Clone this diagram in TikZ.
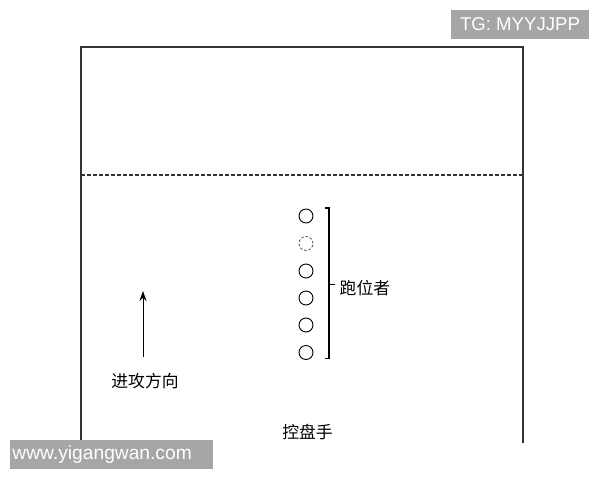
\documentclass[tikz,border=0pt]{standalone}
\usepackage{fontspec}
\setmainfont{Liberation Sans}
\newfontfamily\cjk{Noto Sans CJK SC}
\usetikzlibrary{arrows.meta}
\definecolor{wmgray}{HTML}{A6A6A6}
\definecolor{lineink}{HTML}{333333}
\tikzset{
  field/.style={draw=lineink, line width=1.2pt},
  halfline/.style={draw=lineink, line width=1.1pt, dash pattern=on 3.5pt off 2.5pt},
  runner/.style={circle, draw=black, line width=0.9pt, minimum size=14pt, inner sep=0pt},
  ghost/.style={circle, draw=black!60, line width=0.9pt, dash pattern=on 2.6pt off 1.8pt, minimum size=14pt, inner sep=0pt},
  label/.style={font=\cjk\fontsize{16.8}{18}\selectfont, inner sep=0pt},
  wmbox/.style={fill=wmgray, text=white, inner sep=0pt, font=\fontsize{18.6}{20}\selectfont},
}
\begin{document}
\begin{tikzpicture}[x=1pt, y=-1pt]
\useasboundingbox (0,0) rectangle (600,480);
\fill[white] (0,0) rectangle (600,480);
% field
\coordinate (bl) at (81,443);
\coordinate (tl) at (81,47);
\coordinate (tr) at (523,47);
\coordinate (br) at (523,443);
\draw[field] (bl) -- (tl) -- (tr) -- (br);
\coordinate (dl) at (81,175);
\coordinate (dr) at (523,175);
\draw[halfline] (dl) -- (dr);
% runners
\node[runner] (r1) at (306,216) {};
\node[ghost]  (r2) at (306,243.5) {};
\node[runner] (r3) at (306,271) {};
\node[runner] (r4) at (306,298) {};
\node[runner] (r5) at (306,325) {};
\node[runner] (r6) at (306,352.5) {};
% bracket
\coordinate (bt0) at (324.5,208);
\coordinate (bt) at (329,208);
\coordinate (bb) at (329,358.5);
\coordinate (bb0) at (324.5,358.5);
\coordinate (bm) at (329,284.5);
\coordinate (bm1) at (335,284.5);
\draw[black, line width=1.1pt] (bt0) -- (bt) -- (bb) -- (bb0);
\draw[black, line width=1.1pt] (bm) -- (bm1);
\node[label, anchor=west] (runlab) at (339.5,288) {跑位者};
% direction arrow
\coordinate (a0) at (143,357);
\coordinate (a1) at (143,291);
\draw[black, line width=1pt, -{Stealth[length=10pt, width=7pt]}] (a0) -- (a1);
\node[label] (dirlab) at (145,381.5) {进攻方向};
\node[label] (ctrl) at (307.5,432) {控盘手};
% watermarks
\node[wmbox, minimum width=138pt, minimum height=29pt] (tg) at (520,24.5) {TG: MYYJJPP};
\node[wmbox, font=\fontsize{19.2}{20}\selectfont, minimum width=203pt, minimum height=29.5pt, text width=198pt, align=left] (www) at (111.5,454.7) {www.yigangwan.com};
\end{tikzpicture}
\end{document}
